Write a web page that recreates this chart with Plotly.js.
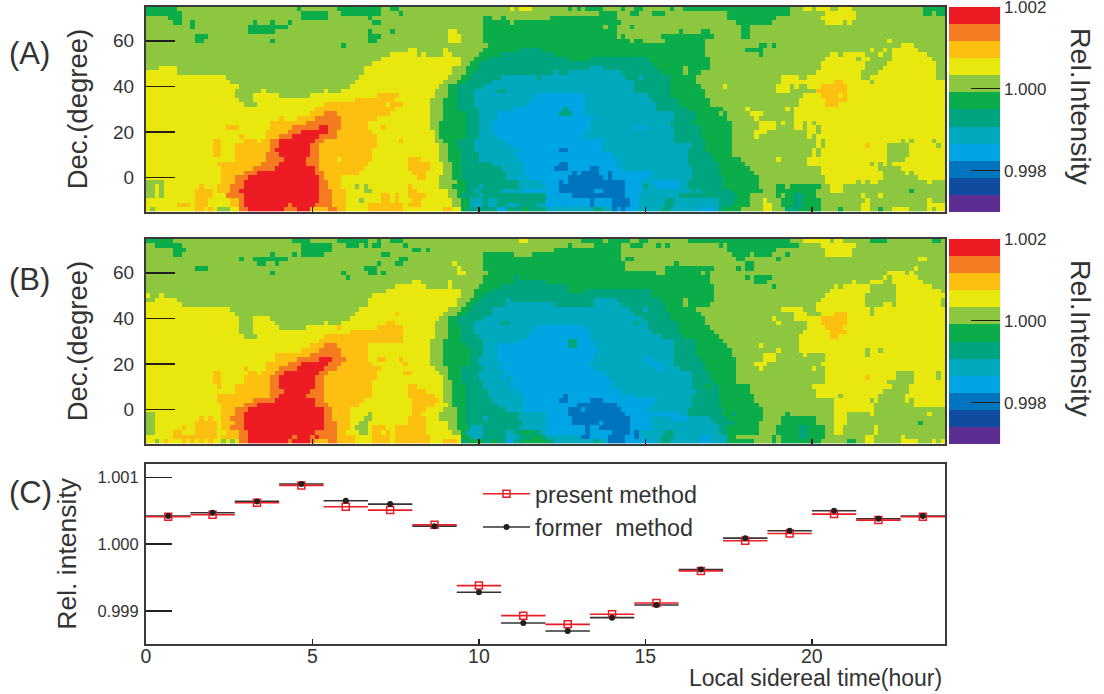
<!DOCTYPE html>
<html><head><meta charset="utf-8">
<script src="https://cdn.plot.ly/plotly-3.0.1.min.js"></script>
<style>html,body{margin:0;padding:0;background:#fff}#chart{width:1104px;height:694px}</style>
</head><body><div id="chart"></div>
<script>
// Sky maps: one string per declination row (top row first); each token = level letter + end column (of 180).
const levelLetters = "PDMBCTEGYAOR";
const levelColors = ["#5c2e91","#0f4c9f","#0074bf","#00a5e3","#00a9bd","#00a47e","#0aad4a","#8dc63f","#e8e80f","#fdc010","#f47b20","#ed1c24"];
const panelARows = [
"E7 G34 E35 G43 E53 G55 E57 G82 Y83 G84 Y87 G95 E96 G97 E98 G99 E103 G107 E108 G110 E112 G118 E119 G121 E145 G148 Y150 G151 Y154 G156 Y159 G175 E180",
"E8 G35 E41 G44 E53 G57 E58 G102 E106 G109 E111 G114 E117 G131 E145 G153 Y160 G175 E177 G178 E180",
"G5 E8 G35 E41 G50 E51 G76 E78 G80 E81 G91 E106 G131 E142 G152 Y160 G180",
"G6 E8 G10 E11 G24 E25 G28 E29 G32 E33 G51 E53 G76 E82 G83 E107 G133 E141 G153 Y157 G158 Y159 G180",
"G10 E11 G23 E32 G76 E103 G104 E106 G109 E110 G134 E136 G180",
"G23 E29 G50 E51 G55 E56 G68 Y70 G76 E106 G120 E121 G125 E127 G134 E136 G180",
"G11 E14 G50 E53 G68 Y71 G76 E106 G107 E108 G116 E128 G134 E136 G180",
"G11 E13 G28 E29 G50 E52 G68 Y71 G76 E109 G110 E112 G117 E126 G167 Y168 G180",
"G44 E45 G77 E126 G138 E140 G141 E142 G170 Y173 G180",
"G59 Y61 G67 Y68 G76 E84 T89 E126 G135 E139 G163 Y164 G166 Y167 G168 Y174 G180",
"G55 Y61 G62 Y63 G67 Y69 G75 E80 T92 E126 G138 E139 G154 Y156 G157 Y162 G165 Y166 G168 Y176 G180",
"G53 Y71 G74 E77 T95 E100 T113 E127 G153 Y160 G161 Y163 G168 Y177 G180",
"G51 Y71 G73 E75 T114 E127 G152 Y162 G167 Y178 G180",
"G3 Y7 G49 Y69 G72 E75 T100 C103 T115 E121 G122 E127 G152 Y162 G166 Y178 G180",
"Y7 G49 Y69 G72 E74 T92 C93 T95 C107 T116 E121 G122 E125 G151 Y161 G165 Y178 G180",
"Y18 G48 Y68 G71 E73 T80 C88 T89 C108 T111 C112 T118 E124 G143 Y147 G149 Y161 G163 Y178 G180",
"Y19 G47 Y67 G70 E72 T78 C110 T118 E124 G143 Y149 Y155 A157 Y163 G164 Y180",
"Y21 G46 Y66 G68 E70 T76 C110 T118 E125 G130 Y131 G142 Y145 G146 Y147 G149 Y152 A158 Y180",
"Y20 G26 Y27 G40 Y41 G44 Y65 G68 E70 T74 C79 T81 C110 T118 E126 G142 Y145 G151 A158 Y180",
"Y20 G24 Y30 G37 Y52 A57 Y65 G68 E70 T74 C88 B99 C113 T118 E126 G148 Y152 A156 Y157 A158 Y180",
"Y21 G24 Y47 A56 Y64 G67 E70 T74 C87 B99 C114 T120 E127 G147 Y153 A158 Y180",
"Y22 G25 Y40 A54 Y55 A58 Y64 G67 E70 T74 C86 B99 C115 T120 E127 G147 Y153 A156 Y180",
"Y38 A56 Y64 G67 E70 T75 C83 B94 T95 B99 C115 T122 E130 G135 Y136 G144 Y145 G146 Y180",
"Y37 A40 O43 A55 Y64 G67 E72 T75 C79 B93 T96 B99 C119 T124 E129 G130 E131 G136 Y139 G146 Y180",
"Y30 A31 Y34 A38 O44 A52 Y64 G67 E72 T75 C79 B101 C119 T124 E131 G137 Y138 G146 Y180",
"Y28 A36 O44 A50 Y64 G66 E72 T75 C78 B100 C118 T123 E132 G138 Y142 G143 Y144 G146 Y148 G149 Y150 G151 Y180",
"Y18 A21 Y28 A33 O39 R41 O44 A50 Y53 A54 Y64 G66 E72 T75 C78 B100 C110 B111 C112 B113 C119 T125 E132 G138 Y142 G146 Y148 G149 Y151 G152 Y180",
"Y27 A32 O35 R41 O43 A51 Y65 G66 E72 T75 C78 B99 C119 T125 E132 G137 Y140 G149 Y151 G152 Y180",
"Y21 A22 Y27 A30 O33 R39 O43 A52 Y65 G66 E72 T75 C79 B99 C119 T125 E132 G137 Y138 G149 Y150 G151 Y180",
"Y15 A17 Y22 A25 Y26 A28 O30 R38 O40 A52 Y57 A58 Y65 G67 E70 T74 C81 B103 C119 T126 E132 G151 Y152 G153 Y170 G171 Y172 G173 Y177 G178 Y180",
"Y15 A17 Y20 A28 O30 R37 O39 A52 Y66 G68 E70 T74 C82 B103 C123 T126 E132 G151 Y152 G153 Y162 A163 Y167 G172 Y178 G179 Y180",
"Y15 A17 Y20 A28 O29 R37 O39 A51 Y66 G68 E71 T74 C84 B93 M95 B103 C122 T126 E132 G150 Y151 G152 Y167 G172 Y180",
"Y15 A17 Y20 A27 O30 R37 O39 A51 Y66 G68 E71 T75 C83 B105 C122 T127 E132 G150 Y151 G152 Y167 G172 Y180",
"Y20 A27 O31 R36 O39 A43 Y44 A51 Y59 A62 Y66 G68 E71 T75 C84 B106 C122 T128 E134 G142 Y143 G149 Y167 G171 Y180",
"Y16 A26 O30 R36 O39 A50 Y59 A64 Y67 G69 E71 T78 C85 B93 M95 B106 C122 T129 E135 G149 Y163 G164 Y165 G166 Y167 G168 Y170 Y180",
"Y17 A24 O29 R38 O39 A49 Y59 A64 Y67 G69 E71 T80 C85 B92 M95 B100 M102 B107 C123 T129 E136 G152 Y165 G170 Y180",
"Y17 A22 O25 R38 O40 A48 Y60 A63 Y67 G69 E71 T81 C85 B96 M97 B98 M102 B104 M105 B114 C123 T129 E137 G152 Y166 G171 Y172 G173 Y180",
"Y17 A20 O23 R39 O40 A44 Y61 A63 Y66 G69 E71 T81 C84 B85 C86 B95 M103 B104 M105 B113 C123 T130 E138 G153 Y166 G174 Y180",
"G4 Y17 A20 O22 R39 O41 A44 Y66 G70 E72 T84 C89 B93 M94 B95 M108 B112 C114 B120 C122 T130 E138 G153 Y160 G161 Y162 G163 Y165 G176 Y177 G180",
"G2 Y3 G4 Y12 A13 Y16 A19 O22 R39 O41 A44 Y47 G48 Y49 G50 Y59 A60 Y66 G69 E72 T75 C76 T84 C90 B93 M108 B112 T113 C115 B120 C122 T130 E138 G142 E144 G145 E152 G154 Y157 G180",
"G2 Y3 G4 Y11 A15 Y16 A19 O21 R39 O42 A45 Y49 G51 Y59 A61 Y68 G70 E72 T74 C75 T80 C85 B93 M101 B103 M108 B112 C123 T124 C125 T132 E139 G142 E151 G154 Y157 G172 E173 G180",
"G2 Y3 G4 Y11 A15 Y18 O22 R39 O42 A45 Y53 A55 Y56 A57 Y59 A63 Y68 G70 E71 T75 C76 T90 B96 M108 B111 C120 T133 E136 G142 E143 G144 E146 T148 E151 G161 Y162 G165 Y166 G180",
"Y11 A14 Y19 A21 O22 R39 O42 A45 Y48 G49 Y53 A55 Y56 A57 Y60 A62 Y69 G71 E73 C76 T77 C79 T90 B100 M101 B105 M109 B111 C117 T119 C129 T133 E136 G139 Y140 G143 E146 T148 E152 G162 Y163 G176 Y177 G180",
"Y7 A10 Y11 A14 Y19 A21 O22 R32 O33 R38 O42 A45 Y50 A58 Y59 A62 Y69 G71 E73 C76 T77 C79 T81 C84 T88 C90 B100 M101 B105 M109 B111 C117 T119 C129 T132 E136 G139 Y141 G143 E146 T148 E152 G161 Y163 G176 Y180",
"Y1 G2 Y11 A13 Y14 A15 Y16 G19 Y21 O23 R31 O34 R37 A41 O43 A45 Y50 A58 Y67 A69 Y71 E72 T79 B81 T85 E86 T90 C101 T103 C105 M106 B107 M108 B111 C116 T118 C125 B128 C129 T130 E134 G139 Y141 G144 T147 E152 G156 E157 G161 Y163 G165 E166 G168 Y172 G176 Y177 G178 Y180"
];
const panelBRows = [
"E6 G33 E37 G43 E50 G52 E53 G55 E58 G84 Y86 G98 E103 G104 E109 G111 E113 G122 E145 G148 Y154 G155 Y157 G163 E167 G177 E179 G180",
"G2 E8 G35 E42 G45 E48 G49 E50 G51 E53 G58 E59 G95 E96 G101 E107 G109 E112 G115 E116 G117 E118 G129 E130 G131 E147 G152 Y160 G180",
"G6 E9 G35 E42 G60 E62 G63 E64 G92 E107 G131 E142 G153 Y159 G180",
"G6 E8 G28 E29 G33 E34 G35 E40 G53 E55 G76 E83 G87 E107 G132 E136 G137 E141 G144 E145 G153 Y159 G180",
"G21 E22 G24 E32 G57 E59 G76 E107 G108 E110 G133 E135 G142 E143 G174 Y176 G180",
"G25 E27 G29 E30 G52 E53 G56 E58 G69 Y70 G76 E108 G119 E120 G135 E137 G180",
"G11 E14 G49 E52 G70 Y71 G76 E108 G117 E128 G133 E134 G135 E137 G173 Y174 G180",
"G28 E29 G44 E45 G50 E52 G53 E54 G70 Y72 G77 E115 G117 E125 G126 E127 G167 Y171 G172 Y173 G180",
"G45 E46 G76 E83 T84 E127 G135 E136 G137 E141 G166 Y167 G168 Y174 G180",
"G60 Y62 G68 Y69 G76 E83 T90 E127 G137 E140 G159 Y160 G163 Y166 G168 Y175 G180",
"G56 Y63 G68 Y69 G75 E80 T95 E128 G141 E142 G155 Y156 G157 Y163 G169 Y177 G180",
"G54 Y71 G74 E78 T95 E99 T114 E128 G154 Y163 G169 Y179 G180",
"Y1 G3 Y4 G51 Y71 G74 E76 T114 E128 G153 Y162 G169 Y180",
"G2 Y7 G50 Y70 G73 E75 T81 C82 T101 C106 T116 E121 G122 E128 G152 Y162 G169 Y179 G180",
"Y8 G50 Y70 G72 E74 T81 C92 T93 T101 C107 T117 E121 G122 E127 G151 Y162 G166 Y168 G169 Y179 G180",
"Y19 G48 Y68 G71 E73 T78 C109 T112 C113 T117 E124 G143 Y148 G151 Y163 G164 Y180",
"Y20 G47 Y56 A57 Y67 G70 E72 T78 C110 T118 E125 G146 Y149 G152 Y155 A158 Y163 G164 Y180",
"Y21 G24 Y28 G46 Y66 G68 E70 T76 C112 T118 E126 G141 Y142 G146 Y152 A158 Y180",
"Y21 G24 Y29 G40 Y41 G44 Y54 A56 Y65 G68 E70 T74 C80 T82 C110 T111 C113 T120 E126 G142 Y143 G149 Y152 A158 Y180",
"Y21 G24 Y30 G36 Y43 A44 Y52 A58 Y65 G68 E71 T74 C88 B99 C113 T120 E127 G149 Y153 A157 Y180",
"Y21 G24 Y46 A58 Y65 G68 E71 T74 C87 B100 C114 T120 E128 G148 Y154 A158 Y180",
"Y22 G25 Y40 A58 Y65 G68 E71 T75 C86 B100 C116 T121 E129 G147 Y154 A156 Y180",
"Y39 A58 Y64 G67 E71 T76 C84 B95 T97 B101 C119 T124 E130 G147 Y180",
"Y37 A40 O43 A50 Y64 G67 E72 T76 C79 B95 T97 B101 C119 T124 E131 G138 Y139 G147 Y180",
"Y35 A39 O44 A50 Y64 G67 E73 T76 C79 B102 C119 T124 E132 G142 Y143 G147 Y162 G163 Y165 G166 Y180",
"Y29 A37 O44 A50 Y64 G67 E73 T76 C79 B101 C119 T124 E132 G139 Y142 G148 Y149 G153 Y162 G163 Y180",
"Y29 A34 O39 R42 O45 A50 Y52 A54 Y57 A58 Y64 G67 E73 T75 C79 B101 C112 B114 C119 T125 E133 G139 Y142 G153 Y180",
"Y27 A32 O35 R41 O44 A51 Y58 A59 Y64 G67 E73 T75 C80 B100 C113 B116 C119 T126 E133 G137 Y140 G152 Y180",
"Y22 A23 Y27 A30 O34 R40 O43 A53 Y65 G68 E71 T76 C80 B101 C115 B117 C120 T126 E133 G138 Y139 G150 Y151 G153 Y180",
"Y15 A17 Y23 A25 Y26 A29 O31 R39 O41 A52 Y58 A60 Y66 G68 E71 T75 C81 B103 C123 T127 E133 G153 Y169 G173 Y178 G179 Y180",
"Y15 A17 Y22 A28 O30 R38 O40 A52 Y67 G68 E71 T75 C80 B81 C83 B104 C123 T127 E133 G153 Y162 A163 Y169 G173 Y178 G179 Y180",
"Y15 A17 Y22 A28 O30 R38 O40 A51 Y67 G69 E71 T76 C82 B105 C123 T128 E133 G153 Y167 G173 Y180",
"Y16 A17 Y20 A28 O30 R38 O40 A51 Y59 A61 Y67 G69 E72 T76 C82 B105 C123 T126 E127 T129 E136 G150 Y168 G172 Y180",
"Y20 A28 O31 R37 O40 A51 Y59 A63 Y67 G69 E72 T77 C84 B107 C124 T129 E136 G151 Y166 G172 Y180",
"Y16 A28 O30 R36 O40 A51 Y59 A65 Y67 G69 E72 T77 C85 B94 M95 B107 C108 B110 C123 T129 E137 G151 Y156 G157 Y165 G171 Y180",
"Y16 A24 O29 R38 O40 A49 Y60 A66 Y67 G69 E72 T78 C85 B93 M95 B100 M103 B115 C123 T129 E137 G155 Y163 G164 Y165 G171 Y172 G173 Y180",
"Y17 A22 O25 R38 O41 A48 Y60 A65 Y68 G69 E72 T79 C85 B97 M106 B114 C123 T129 E138 G155 Y164 G173 Y180",
"Y17 A20 O23 R40 O42 A46 Y60 A63 Y67 G70 E72 T81 C85 B95 M98 B99 M107 B113 C122 T130 E139 G155 Y164 G180",
"G2 Y17 A20 O22 R40 O42 A46 Y50 G51 Y60 A62 Y66 G70 E72 T84 C90 B95 M108 B120 C122 T130 E132 T133 E139 G144 E145 G155 Y158 G163 Y164 G176 Y177 G180",
"G2 Y12 A13 Y14 A15 Y17 A19 O22 R40 O42 A46 Y49 G51 Y59 A63 Y66 G70 E72 T76 C77 T84 C90 B96 M109 B114 C118 B122 C127 T131 E139 G143 E151 G155 Y158 G180",
"G2 Y11 A16 Y17 A20 O22 R40 O43 A46 Y48 G50 Y59 A63 Y68 G70 E72 T85 C90 B96 M102 B103 M109 B114 C128 T133 E138 G143 E151 G155 Y158 G174 E175 G180",
"G2 Y8 A9 Y11 A16 Y17 A19 O22 R40 O43 A46 Y47 G50 Y51 A54 Y56 A63 Y68 G70 E73 C76 T84 C90 B99 M100 B102 M109 B114 C129 T131 E138 G142 E147 T149 E153 G155 Y157 G164 Y165 G180",
"G2 Y6 A8 Y11 A16 Y18 A21 O23 R38 O43 A45 Y48 G50 Y51 A53 Y54 A55 Y56 A63 Y69 G71 E72 C76 T81 C83 T85 E87 T89 C90 B99 M100 B105 M109 B110 M111 C117 T119 C129 T131 E138 G142 E147 T149 E153 G155 Y157 G164 Y165 G180",
"Y6 A16 Y17 A21 O23 R33 O34 R37 O38 R39 O43 A47 Y51 A55 Y56 A64 Y71 E73 C76 T81 C84 T87 E89 T90 C98 M100 B104 M108 B110 M111 B112 C116 T119 C125 B127 C131 E133 G141 E142 G143 E147 T149 E153 G162 Y164 G170 Y171 G180",
"Y2 G3 Y4 A5 Y8 A9 Y10 A11 Y12 A13 Y14 A15 Y17 G18 Y19 G20 Y21 O23 R32 O33 R37 O38 A41 O43 A47 Y51 A55 Y56 A64 Y67 A70 Y71 T72 E76 T78 E79 T81 B83 T85 E90 T92 C101 T102 C104 M108 B114 C116 T118 C125 B127 C131 E137 G141 E142 G143 E152 G158 E160 G162 Y164 G170 Y174 G177 Y178 G179 Y180"
];
// Panel C: 18 bins of local sidereal time.
const binCentres = [0.667,2,3.333,4.667,6,7.333,8.667,10,11.333,12.667,14,15.333,16.667,18,19.333,20.667,22,23.333];
const formerValues = [1.00042,1.00047,1.00064,1.00090,1.00065,1.00060,1.00027,0.99928,0.99882,0.99870,0.99890,0.99909,0.99962,1.00009,1.00020,1.00050,1.00038,1.00042];
const presentValues = [1.00041,1.00044,1.00062,1.00088,1.00056,1.00051,1.00029,0.99938,0.99893,0.99880,0.99895,0.99912,0.99960,1.00005,1.00016,1.00045,1.00036,1.00041];
const cbTicks = [0.998,1.000,1.002];
const hourTicks = [0,5,10,15,20];
const decTicks = [0,20,40,60];
const relTicks = [0.999,1.000,1.001];

const W=1104,H=694,FONT='"Liberation Sans", Arial, sans-serif',INK='#333333',DARK='#231f20';
const ZMIN=0.997,ZMAX=1.002,N=levelColors.length;
function decode(rows){
  return rows.slice().reverse().map(r=>{
    const out=[];
    r.split(' ').forEach(t=>{
      const l=levelLetters.indexOf(t[0]),end=+t.slice(1);
      while(out.length<end) out.push(ZMIN+(l+0.5)*(ZMAX-ZMIN)/N);
    });
    return out;
  });
}
const scale=[];
levelColors.forEach((c,i)=>{scale.push([i/N,c]);scale.push([(i+1)/N,c]);});
const px=x=>x/W, py=y=>1-y/H;
function map(rows,xa,ya,top,bottom){
  return {type:'heatmap',z:decode(rows),x0:12/180,dx:24/180,y0:-14,dy:2,xaxis:xa,yaxis:ya,
    colorscale:scale,zmin:ZMIN,zmax:ZMAX,hoverinfo:'skip',
    colorbar:{x:px(949),xanchor:'left',xref:'paper',y:py(top),yanchor:'top',yref:'paper',len:(bottom-top)/H,lenmode:'fraction',
      thickness:51,thicknessmode:'pixels',xpad:0,ypad:0,outlinewidth:0,borderwidth:0,ticklabeloverflow:'allow',
      tickmode:'array',tickvals:cbTicks.map(v=>Math.min(v,ZMAX-2e-6)),ticktext:cbTicks.map(v=>v.toFixed(3)),ticks:'inside',ticklen:29,tickwidth:1.2,tickcolor:DARK,
      tickfont:{family:FONT,size:17,color:INK}}};
}
const binW=(24/18)/2;
const gapped=(arr)=>arr.flatMap(v=>[v,null]);
const traces=[
  map(panelARows,'x','y',6.7,211.5),
  map(panelBRows,'x2','y2',238.7,443.5),
  {type:'scatter',mode:'markers',x:binCentres,y:formerValues,xaxis:'x3',yaxis:'y3',showlegend:false,hoverinfo:'skip',
   marker:{size:1,color:DARK},error_x:{type:'constant',value:binW,width:0,thickness:1.6,color:'#333333'}},
  {type:'scatter',mode:'lines+markers',name:'present method',x:gapped(binCentres),y:gapped(presentValues),xaxis:'x3',yaxis:'y3',
   line:{color:'#ed1c24',width:1.5},connectgaps:false,
   marker:{symbol:'square-open',size:7,color:'#ed1c24',line:{width:1.5,color:'#ed1c24'}},
   error_x:{type:'constant',value:binW,width:0,thickness:1.6,color:'#ed1c24'},legendgroup:'a'},
  {type:'scatter',mode:'lines+markers',name:'former  method',x:gapped(binCentres),y:gapped(formerValues),xaxis:'x3',yaxis:'y3',
   line:{color:'#333333',width:1.5},connectgaps:false,marker:{symbol:'circle',size:6,color:DARK},legendgroup:'b'}
];
function xAxis(anchor,labels){
  return {domain:[px(146),px(945)],range:[0,24],anchor,showgrid:false,zeroline:false,showline:true,mirror:true,linecolor:'#3a3a3a',linewidth:2,
    tickmode:'array',tickvals:hourTicks,ticks:'inside',ticklen:5,tickwidth:1.5,tickcolor:DARK,showticklabels:labels,ticklabelstandoff:labels?-6:0,
    tickfont:{family:FONT,size:19.5,color:INK}};
}
function yAxis(anchor,top,bottom,range,vals,text,title,len,opt){
  return {domain:[py(bottom),py(top)],range,anchor,showgrid:false,zeroline:false,showline:true,mirror:true,linecolor:'#3a3a3a',linewidth:2,
    tickmode:'array',tickvals:vals,ticktext:text,ticks:'inside',ticklen:len,tickwidth:1.5,tickcolor:DARK,
    ticklabelstandoff:opt.labelOff,tickfont:{family:FONT,size:opt.tickSize,color:INK},
    title:{text:title,font:{family:FONT,size:opt.titleSize,color:INK},standoff:opt.standoff}};
}
const panelLabel=(t,y)=>({text:t,xref:'paper',yref:'paper',x:px(7),y:py(y),xanchor:'left',yanchor:'middle',showarrow:false,font:{family:FONT,size:31,color:INK}});
const barTitle=y=>({text:'Rel.Intensity',xref:'paper',yref:'paper',x:px(1081),y:py(y),xanchor:'center',yanchor:'middle',textangle:90,showarrow:false,font:{family:FONT,size:28.5,color:INK}});
const decOpt={labelOff:6,tickSize:19,titleSize:27.5,standoff:17};
const barEdge=(top,bottom)=>({type:'line',xref:'paper',yref:'paper',x0:px(999.5),x1:px(999.5),y0:py(top),y1:py(bottom),line:{color:'#555555',width:1.2}});
const layout={width:W,height:H,margin:{l:0,r:0,t:0,b:0},paper_bgcolor:'#fff',plot_bgcolor:'#fff',
  xaxis:xAxis('y',false),
  yaxis:yAxis('x',6.7,211.5,[-15,75],decTicks,decTicks.map(String),'Dec.(degree)',29,decOpt),
  xaxis2:xAxis('y2',false),
  yaxis2:yAxis('x2',238.7,443.5,[-15,75],decTicks,decTicks.map(String),'Dec.(degree)',29,decOpt),
  xaxis3:xAxis('y3',true),
  yaxis3:yAxis('x3',464,643.7,[0.99851,1.0012],relTicks,relTicks.map(v=>v.toFixed(3)),'Rel. intensity',26,{labelOff:2,tickSize:16.5,titleSize:26.5,standoff:13}),
  showlegend:true,
  legend:{x:px(478),y:py(472),xanchor:'left',yanchor:'top',bgcolor:'rgba(0,0,0,0)',borderwidth:0,itemwidth:47,
    traceorder:'grouped',tracegroupgap:0,font:{family:FONT,size:23.3,color:INK}},
  shapes:[barEdge(6.7,211.5),barEdge(238.7,443.5)],
  annotations:[panelLabel('(A)',53),panelLabel('(B)',279),panelLabel('(C)',492),barTitle(107),barTitle(339),
    {text:'Local sidereal time(hour)',xref:'paper',yref:'paper',x:px(944),y:py(678),xanchor:'right',yanchor:'middle',showarrow:false,font:{family:FONT,size:23,color:INK}}]
};
Plotly.newPlot('chart',traces,layout,{displayModeBar:false,staticPlot:true});
</script></body></html>
